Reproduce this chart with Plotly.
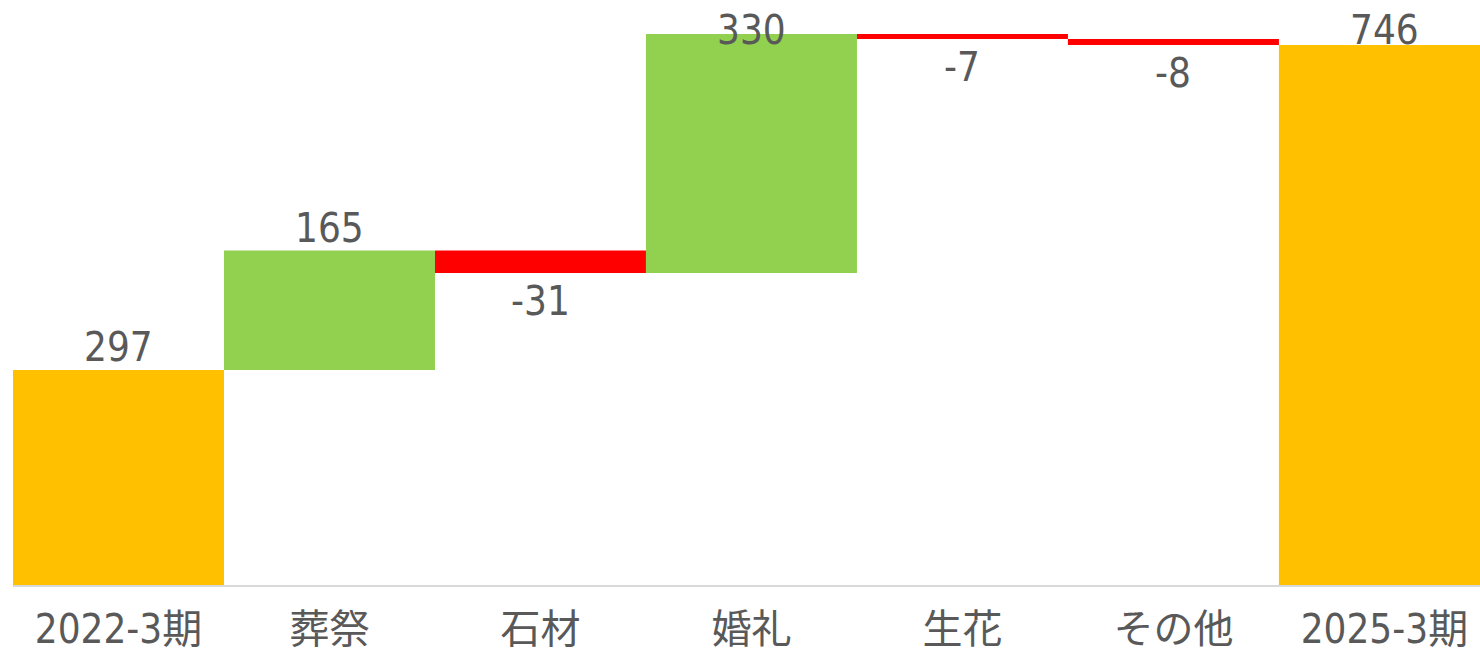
import plotly.graph_objects as go

categories = ["2022-3期", "葬祭", "石材", "婚礼", "生花", "その他", "2025-3期"]
values = [297, 165, -31, 330, -7, -8, 746]
measures = ["absolute", "relative", "relative", "relative", "relative", "relative", "total"]
labels = ["297", "165", "-31", "330", "-7", "-8", "746"]

FONT = "Liberation Sans Narrow, DejaVu Sans Condensed, Roboto Condensed, Noto Sans CJK JP, sans-serif"
TXT = "#595959"
YMAX = 808
LBL = 40

fig = go.Figure(go.Waterfall(
    x=categories, y=values, measure=measures,
    increasing=dict(marker=dict(color="#92D050", line=dict(width=0))),
    decreasing=dict(marker=dict(color="#FF0000", line=dict(width=0))),
    totals=dict(marker=dict(color="#FFC000", line=dict(width=0))),
    connector=dict(visible=False),
    hoverinfo="skip",
))

run = 0
for i, (v, m, lab) in enumerate(zip(values, measures, labels)):
    if m == "absolute":
        start, end = 0, v
    elif m == "total":
        start, end = 0, run
    else:
        start, end = run, run + v
    run = end
    if end >= start:
        if end + 75 > YMAX:
            fig.add_annotation(x=categories[i], y=YMAX, yref="y", text=lab, showarrow=False,
                               yanchor="top", yshift=-5, font=dict(family=FONT, size=LBL, color=TXT))
        else:
            fig.add_annotation(x=categories[i], y=end, text=lab, showarrow=False,
                               yanchor="bottom", yshift=-2, font=dict(family=FONT, size=LBL, color=TXT))
    else:
        fig.add_annotation(x=categories[i], y=end, text=lab, showarrow=False,
                           yanchor="top", yshift=-3, font=dict(family=FONT, size=LBL, color=TXT))

fig.update_layout(
    width=1480, height=653,
    margin=dict(l=13, r=0, t=0, b=68),
    paper_bgcolor="white", plot_bgcolor="white",
    waterfallgap=0, showlegend=False,
    font=dict(family=FONT, size=LBL, color=TXT),
    xaxis=dict(range=[-0.5, 6.453], showline=True, linecolor="#D9D9D9", linewidth=2,
               showgrid=False, ticks="", automargin=False, ticklabelstandoff=8,
               tickfont=dict(family=FONT, size=LBL, color=TXT)),
    yaxis=dict(range=[0, YMAX], visible=False, showgrid=False, zeroline=False, automargin=False),
)

fig.write_html("out.html", config={"displayModeBar": False, "staticPlot": True},
               post_script="document.body.style.margin='0';document.body.style.overflow='hidden';")
